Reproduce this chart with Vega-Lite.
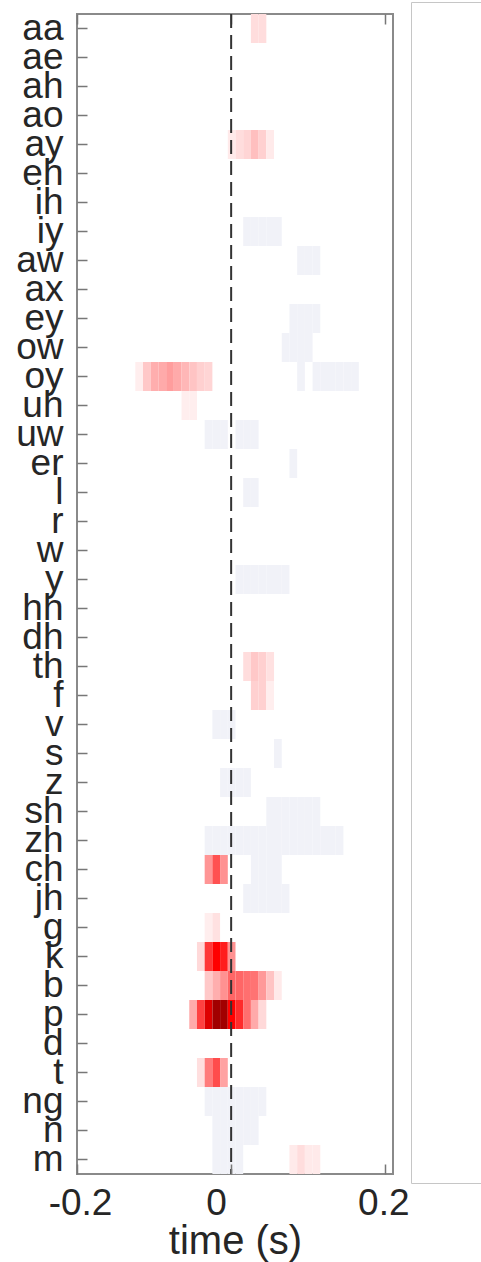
{
  "$schema": "https://vega.github.io/schema/vega-lite/v6.json",
  "background": "white",
  "padding": {"left": 14, "top": 1, "right": 0, "bottom": 0},
  "spacing": -9,
  "config": {"font": "Liberation Sans", "view": {"stroke": null}},
  "hconcat": [
    {
      "spacing": 5,
      "vconcat": [
        {
          "width": 316,
          "height": 1,
          "data": {"values": [{}]},
          "mark": {"type": "text", "fontSize": 0},
          "encoding": {"text": {"value": ""}}
        },
        {
          "width": 316,
          "height": 1160,
          "view": {"stroke": "#8a8a8a", "strokeWidth": 2},
          "data": {
            "values": [
              {"ph": "aa", "t": 0.025, "v": 0.8}, {"ph": "aa", "t": 0.035, "v": 0.8},
              {"ph": "ay", "t": -0.005, "v": 0.5}, {"ph": "ay", "t": 0.005, "v": 0.8}, {"ph": "ay", "t": 0.015, "v": 1.0},
              {"ph": "ay", "t": 0.025, "v": 1.5}, {"ph": "ay", "t": 0.035, "v": 1.1}, {"ph": "ay", "t": 0.045, "v": 0.5},
              {"ph": "iy", "t": 0.015, "v": -1}, {"ph": "iy", "t": 0.025, "v": -1}, {"ph": "iy", "t": 0.035, "v": -1},
              {"ph": "iy", "t": 0.045, "v": -1}, {"ph": "iy", "t": 0.055, "v": -1},
              {"ph": "aw", "t": 0.085, "v": -1}, {"ph": "aw", "t": 0.095, "v": -1}, {"ph": "aw", "t": 0.105, "v": -1},
              {"ph": "ey", "t": 0.075, "v": -1}, {"ph": "ey", "t": 0.085, "v": -1}, {"ph": "ey", "t": 0.095, "v": -1}, {"ph": "ey", "t": 0.105, "v": -1},
              {"ph": "ow", "t": 0.065, "v": -1}, {"ph": "ow", "t": 0.075, "v": -1}, {"ph": "ow", "t": 0.085, "v": -1}, {"ph": "ow", "t": 0.095, "v": -1},
              {"ph": "oy", "t": -0.125, "v": 0.4}, {"ph": "oy", "t": -0.115, "v": 1.3}, {"ph": "oy", "t": -0.105, "v": 1.9},
              {"ph": "oy", "t": -0.095, "v": 2.0}, {"ph": "oy", "t": -0.085, "v": 2.3}, {"ph": "oy", "t": -0.075, "v": 2.0},
              {"ph": "oy", "t": -0.065, "v": 1.7}, {"ph": "oy", "t": -0.055, "v": 1.4}, {"ph": "oy", "t": -0.045, "v": 1.1},
              {"ph": "oy", "t": -0.035, "v": 1.0},
              {"ph": "oy", "t": 0.085, "v": -1}, {"ph": "oy", "t": 0.105, "v": -1}, {"ph": "oy", "t": 0.115, "v": -1},
              {"ph": "oy", "t": 0.125, "v": -1}, {"ph": "oy", "t": 0.135, "v": -1}, {"ph": "oy", "t": 0.145, "v": -1}, {"ph": "oy", "t": 0.155, "v": -1},
              {"ph": "uh", "t": -0.065, "v": 0.4}, {"ph": "uh", "t": -0.055, "v": 0.4},
              {"ph": "uw", "t": -0.035, "v": -1}, {"ph": "uw", "t": -0.025, "v": -1}, {"ph": "uw", "t": -0.015, "v": -1},
              {"ph": "uw", "t": 0.005, "v": -1}, {"ph": "uw", "t": 0.015, "v": -1}, {"ph": "uw", "t": 0.025, "v": -1},
              {"ph": "er", "t": 0.075, "v": -1},
              {"ph": "l", "t": 0.015, "v": -1}, {"ph": "l", "t": 0.025, "v": -1},
              {"ph": "y", "t": 0.005, "v": -1}, {"ph": "y", "t": 0.015, "v": -1}, {"ph": "y", "t": 0.025, "v": -1}, {"ph": "y", "t": 0.035, "v": -1},
              {"ph": "y", "t": 0.045, "v": -1}, {"ph": "y", "t": 0.055, "v": -1}, {"ph": "y", "t": 0.065, "v": -1},
              {"ph": "th", "t": 0.015, "v": 0.8}, {"ph": "th", "t": 0.025, "v": 1.3}, {"ph": "th", "t": 0.035, "v": 1.1}, {"ph": "th", "t": 0.045, "v": 0.7},
              {"ph": "f", "t": 0.025, "v": 1.1}, {"ph": "f", "t": 0.035, "v": 1.1}, {"ph": "f", "t": 0.045, "v": 0.4},
              {"ph": "v", "t": -0.025, "v": -1}, {"ph": "v", "t": -0.015, "v": -1}, {"ph": "v", "t": -0.005, "v": -1},
              {"ph": "s", "t": 0.055, "v": -1},
              {"ph": "z", "t": -0.015, "v": -1}, {"ph": "z", "t": -0.005, "v": -1}, {"ph": "z", "t": 0.005, "v": -1}, {"ph": "z", "t": 0.015, "v": -1},
              {"ph": "sh", "t": 0.045, "v": -1}, {"ph": "sh", "t": 0.055, "v": -1}, {"ph": "sh", "t": 0.065, "v": -1}, {"ph": "sh", "t": 0.075, "v": -1},
              {"ph": "sh", "t": 0.085, "v": -1}, {"ph": "sh", "t": 0.095, "v": -1}, {"ph": "sh", "t": 0.105, "v": -1},
              {"ph": "zh", "t": -0.035, "v": -1}, {"ph": "zh", "t": -0.025, "v": -1}, {"ph": "zh", "t": -0.015, "v": -1}, {"ph": "zh", "t": -0.005, "v": -1},
              {"ph": "zh", "t": 0.005, "v": -1}, {"ph": "zh", "t": 0.015, "v": -1}, {"ph": "zh", "t": 0.025, "v": -1}, {"ph": "zh", "t": 0.035, "v": -1},
              {"ph": "zh", "t": 0.045, "v": -1}, {"ph": "zh", "t": 0.055, "v": -1}, {"ph": "zh", "t": 0.065, "v": -1}, {"ph": "zh", "t": 0.075, "v": -1},
              {"ph": "zh", "t": 0.085, "v": -1}, {"ph": "zh", "t": 0.095, "v": -1}, {"ph": "zh", "t": 0.105, "v": -1}, {"ph": "zh", "t": 0.115, "v": -1},
              {"ph": "zh", "t": 0.125, "v": -1}, {"ph": "zh", "t": 0.135, "v": -1},
              {"ph": "ch", "t": -0.035, "v": 2.5}, {"ph": "ch", "t": -0.025, "v": 4.1}, {"ph": "ch", "t": -0.015, "v": 2.6},
              {"ph": "ch", "t": 0.025, "v": -1}, {"ph": "ch", "t": 0.035, "v": -1}, {"ph": "ch", "t": 0.045, "v": -1}, {"ph": "ch", "t": 0.055, "v": -1},
              {"ph": "jh", "t": 0.015, "v": -1}, {"ph": "jh", "t": 0.025, "v": -1}, {"ph": "jh", "t": 0.035, "v": -1},
              {"ph": "jh", "t": 0.045, "v": -1}, {"ph": "jh", "t": 0.055, "v": -1}, {"ph": "jh", "t": 0.065, "v": -1},
              {"ph": "g", "t": -0.035, "v": 0.4}, {"ph": "g", "t": -0.025, "v": 0.7},
              {"ph": "k", "t": -0.045, "v": 0.9}, {"ph": "k", "t": -0.035, "v": 4.7}, {"ph": "k", "t": -0.025, "v": 6.0},
              {"ph": "k", "t": -0.015, "v": 5.3}, {"ph": "k", "t": -0.005, "v": 2.6},
              {"ph": "b", "t": -0.035, "v": 1.3}, {"ph": "b", "t": -0.025, "v": 1.9}, {"ph": "b", "t": -0.015, "v": 2.6},
              {"ph": "b", "t": -0.005, "v": 3.6}, {"ph": "b", "t": 0.005, "v": 3.6}, {"ph": "b", "t": 0.015, "v": 3.4},
              {"ph": "b", "t": 0.025, "v": 3.3}, {"ph": "b", "t": 0.035, "v": 2.4}, {"ph": "b", "t": 0.045, "v": 1.4}, {"ph": "b", "t": 0.055, "v": 0.5},
              {"ph": "p", "t": -0.055, "v": 2.0}, {"ph": "p", "t": -0.045, "v": 4.5}, {"ph": "p", "t": -0.035, "v": 7.3},
              {"ph": "p", "t": -0.025, "v": 9.7}, {"ph": "p", "t": -0.015, "v": 9.7}, {"ph": "p", "t": -0.005, "v": 6.0},
              {"ph": "p", "t": 0.005, "v": 5.0}, {"ph": "p", "t": 0.015, "v": 3.4}, {"ph": "p", "t": 0.025, "v": 2.0}, {"ph": "p", "t": 0.035, "v": 0.9},
              {"ph": "t", "t": -0.045, "v": 0.75}, {"ph": "t", "t": -0.035, "v": 3.1}, {"ph": "t", "t": -0.025, "v": 4.2}, {"ph": "t", "t": -0.015, "v": 2.2},
              {"ph": "ng", "t": -0.035, "v": -1}, {"ph": "ng", "t": -0.025, "v": -1}, {"ph": "ng", "t": -0.015, "v": -1}, {"ph": "ng", "t": -0.005, "v": -1},
              {"ph": "ng", "t": 0.005, "v": -1}, {"ph": "ng", "t": 0.015, "v": -1}, {"ph": "ng", "t": 0.025, "v": -1}, {"ph": "ng", "t": 0.035, "v": -1},
              {"ph": "n", "t": -0.025, "v": -1}, {"ph": "n", "t": -0.015, "v": -1}, {"ph": "n", "t": -0.005, "v": -1},
              {"ph": "n", "t": 0.005, "v": -1}, {"ph": "n", "t": 0.015, "v": -1}, {"ph": "n", "t": 0.025, "v": -1},
              {"ph": "m", "t": -0.025, "v": -1}, {"ph": "m", "t": -0.015, "v": -1}, {"ph": "m", "t": -0.005, "v": -1}, {"ph": "m", "t": 0.005, "v": -1},
              {"ph": "m", "t": 0.075, "v": 0.5}, {"ph": "m", "t": 0.085, "v": 0.8}, {"ph": "m", "t": 0.095, "v": 0.5}, {"ph": "m", "t": 0.105, "v": 0.5}
            ]
          },
          "layer": [
            {
              "mark": {"type": "rect"},
              "encoding": {
                "x": {
                  "field": "t",
                  "type": "quantitative",
                  "bin": {"binned": true, "step": 0.01},
                  "scale": {"domain": [-0.2, 0.21], "nice": false, "zero": false},
                  "axis": {
                    "orient": "bottom",
                    "values": [-0.2, 0, 0.2],
                    "labelExpr": "'' + datum.value",
                    "labelOffset": {
                      "condition": [
                        {"test": "datum.value === 0", "value": -15},
                        {"test": "datum.value > 0", "value": -2}
                      ],
                      "value": 3
                    },
                    "labelFlush": false,
                    "labelOverlap": false,
                    "labelFont": "Liberation Sans",
                    "labelFontSize": 37,
                    "labelColor": "#262626",
                    "labelPadding": 21,
                    "tickSize": -10,
                    "tickColor": "#777777",
                    "tickWidth": 1.5,
                    "domain": false,
                    "grid": false,
                    "title": "time (s)",
                    "titleFont": "Liberation Sans",
                    "titleFontSize": 40,
                    "titleFontWeight": "normal",
                    "titleColor": "#262626",
                    "titlePadding": 0
                  }
                },
                "y": {
                  "field": "ph",
                  "type": "nominal",
                  "sort": ["aa", "ae", "ah", "ao", "ay", "eh", "ih", "iy", "aw", "ax", "ey", "ow", "oy", "uh", "uw", "er", "l", "r", "w", "y", "hh", "dh", "th", "f", "v", "s", "z", "sh", "zh", "ch", "jh", "g", "k", "b", "p", "d", "t", "ng", "n", "m"],
                  "scale": {"domain": ["aa", "ae", "ah", "ao", "ay", "eh", "ih", "iy", "aw", "ax", "ey", "ow", "oy", "uh", "uw", "er", "l", "r", "w", "y", "hh", "dh", "th", "f", "v", "s", "z", "sh", "zh", "ch", "jh", "g", "k", "b", "p", "d", "t", "ng", "n", "m"], "paddingInner": 0, "paddingOuter": 0},
                  "axis": {
                    "title": null,
                    "domain": false,
                    "grid": false,
                    "labelFont": "Liberation Sans",
                    "labelFontSize": 37,
                    "labelColor": "#262626",
                    "labelPadding": 24,
                    "tickSize": -10,
                    "tickColor": "#777777",
                    "tickWidth": 1.5
                  }
                },
                "color": {
                  "field": "v",
                  "type": "quantitative",
                  "scale": {"domain": [-1, 0, 6, 10], "range": ["#f1f2f8", "#ffffff", "#ff0000", "#990000"], "interpolate": "rgb"},
                  "legend": null
                }
              }
            },
            {
              "data": {"values": [{"t": 0}]},
              "mark": {"type": "rule", "color": "#333333", "strokeWidth": 2, "strokeDash": [14, 7]},
              "encoding": {
                "x": {
                  "field": "t",
                  "type": "quantitative",
                  "axis": {
                    "orient": "top",
                    "values": [-0.2, 0, 0.2],
                    "labels": false,
                    "domain": false,
                    "grid": false,
                    "tickSize": -10,
                    "tickColor": "#777777",
                    "tickWidth": 1.5,
                    "title": null
                  }
                }
              }
            }
          ],
          "resolve": {"axis": {"x": "independent"}}
        }
      ]
    },
    {
      "width": 73,
      "height": 1181,
      "view": {"stroke": "#c6c6c6", "strokeWidth": 1},
      "data": {"values": [{}]},
      "mark": {"type": "text", "fontSize": 0},
      "encoding": {"text": {"value": ""}}
    }
  ]
}
